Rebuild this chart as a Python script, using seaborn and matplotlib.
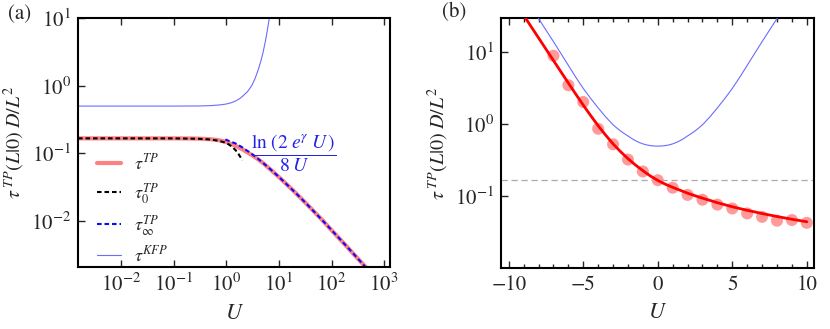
import matplotlib
matplotlib.use("Agg")
import matplotlib.pyplot as plt
from matplotlib.ticker import NullLocator, LogLocator, MultipleLocator
from matplotlib.lines import Line2D
import seaborn as sns

# ---- panel (a): U on log axis ----
u_tp_a = [0.0015, 0.01, 0.05, 0.1, 0.2, 0.3, 0.5, 0.7, 1, 1.5, 2, 3, 4, 5, 7,
          10, 15, 20, 30, 50, 70, 100, 200, 300, 500]
tau_tp_a = [0.1667, 0.1667, 0.1666, 0.1665, 0.1659, 0.1649, 0.1617, 0.1570, 0.1470,
            0.1290, 0.1150, 0.0950, 0.0818, 0.0716, 0.0570, 0.0445, 0.0331, 0.0267,
            0.0195, 0.0130, 0.0099, 0.0073, 0.0041, 0.0029, 0.0019]

u_tp0 = [0.0015, 0.1, 0.3, 0.5, 0.7, 0.9, 1.1, 1.3, 1.5, 1.7, 1.85, 2.0]
tau_tp0 = [0.1667, 0.1664, 0.1643, 0.1603, 0.1540, 0.1460, 0.1360, 0.1240, 0.1110,
           0.0975, 0.0880, 0.0790]

u_tpinf = [0.95, 1.5, 2, 3, 4, 5, 7, 10, 15, 20, 30, 50, 70, 100, 200, 300, 500]
tau_tpinf = [0.1604, 0.1397, 0.1227, 0.0987, 0.0830, 0.0720, 0.0574, 0.0447, 0.0331,
             0.0267, 0.0195, 0.01295, 0.00985, 0.00734, 0.00411, 0.00291, 0.00187]

u_kfp_a = [0.0015, 0.1, 0.3, 0.5, 0.75, 1, 1.25, 1.5, 1.75, 2, 2.5, 3, 3.5, 4, 4.5,
           5, 5.5, 6, 6.5, 7, 7.5]
tau_kfp_a = [0.5, 0.5, 0.502, 0.508, 0.52, 0.537, 0.562, 0.596, 0.638, 0.692, 0.813,
             0.989, 1.274, 1.698, 2.291, 3.162, 4.519, 6.607, 9.66, 14.13, 20.42]

# ---- panel (b): U on linear axis ----
u_tp_b = [-9, -8.5, -8, -7.5, -7, -6.5, -6, -5.5, -5, -4.5, -4, -3.5, -3, -2.5, -2,
          -1.5, -1, -0.5, 0, 0.5, 1, 1.5, 2, 2.5, 3, 3.5, 4, 4.5, 5, 5.5, 6, 6.5,
          7, 7.5, 8, 8.5, 9, 9.5, 10]
tau_tp_b = [32.81, 22.86, 15.92, 11.09, 7.727, 5.383, 3.758, 2.630, 1.854, 1.324,
            0.959, 0.711, 0.537, 0.419, 0.3345, 0.2735, 0.228, 0.1925, 0.1667, 0.148,
            0.1338, 0.1218, 0.111, 0.1023, 0.0946, 0.0881, 0.0818, 0.0767, 0.0719,
            0.0679, 0.0641, 0.0610, 0.0578, 0.0552, 0.0526, 0.0504, 0.0482, 0.0463,
            0.0445]

u_sim = [-7, -6, -5, -4, -3, -2, -1, 0, 1, 2, 3, 4, 5, 6, 7, 8, 9, 10]
tau_sim = [9.0, 3.5, 2.05, 0.87, 0.53, 0.325, 0.222, 0.168, 0.132, 0.105, 0.090,
           0.077, 0.068, 0.058, 0.052, 0.046, 0.047, 0.043]

u_kfp_b = [-8.5, -8, -7.5, -7, -6.5, -6, -5.5, -5, -4.5, -4, -3.5, -3, -2.75, -2.5,
           -2.25, -2, -1.75, -1.5, -1.25, -1, -0.75, -0.5, -0.25, 0, 0.25, 0.5, 0.75,
           1, 1.25, 1.5, 1.75, 2, 2.25, 2.5, 2.75, 3, 3.5, 4, 4.5, 5, 5.5, 6, 6.5,
           7, 7.5, 8, 8.5]
tau_kfp_b = [42.66, 29.51, 20.42, 14.13, 9.66, 6.607, 4.519, 3.162, 2.291, 1.698,
             1.274, 0.989, 0.893, 0.813, 0.746, 0.692, 0.638, 0.596, 0.562, 0.537,
             0.520, 0.508, 0.5017, 0.5, 0.5017, 0.508, 0.520, 0.537, 0.562, 0.596,
             0.638, 0.692, 0.746, 0.813, 0.893, 0.989, 1.274, 1.698, 2.291, 3.162,
             4.519, 6.607, 9.66, 14.13, 20.42, 29.51, 42.66]

tau_zero = 1 / 6

SALMON = "#ff8080"
KFP_BLUE = "#6b6bff"
DASH_BLUE = "#0a0aff"

sns.set_style("ticks")
plt.rcParams["font.family"] = ["STIXGeneral", "DejaVu Serif"]
plt.rcParams["mathtext.fontset"] = "stix"
plt.rcParams["axes.linewidth"] = 1.5

fig = plt.figure(figsize=(8.3, 3.29), dpi=100)
ax_a = fig.add_axes([0.094, 0.189, 0.376, 0.756])
ax_b = fig.add_axes([0.604, 0.186, 0.377, 0.759])

# (a)
sns.lineplot(x=u_tp_a, y=tau_tp_a, ax=ax_a, color=SALMON, lw=3, sort=False)
sns.lineplot(x=u_kfp_a, y=tau_kfp_a, ax=ax_a, color=KFP_BLUE, lw=0.8, sort=False)
sns.lineplot(x=u_tp0, y=tau_tp0, ax=ax_a, color="black", lw=1.5,
             linestyle=(0, (2.2, 1.4)), sort=False)
sns.lineplot(x=u_tpinf, y=tau_tpinf, ax=ax_a, color=DASH_BLUE, lw=1.5,
             linestyle=(0, (2.2, 1.4)), sort=False)
ax_a.set_xscale("log")
ax_a.set_yscale("log")
ax_a.set_xlim(1.5e-3, 1300)
ax_a.set_ylim(2.1e-3, 10)
ax_a.xaxis.set_major_locator(LogLocator(base=10, numticks=10))
ax_a.yaxis.set_major_locator(LogLocator(base=10, numticks=10))
ax_a.xaxis.set_minor_locator(NullLocator())
ax_a.yaxis.set_minor_locator(NullLocator())

ax_a.text(0.692, 0.455, r"$\dfrac{\ln\,(2\;e^{\gamma}\;U\,)}{8\;U}$",
          transform=ax_a.transAxes, ha="center", va="center",
          color="#2323e6", fontsize=14)

handles = [
    Line2D([], [], color=SALMON, lw=3),
    Line2D([], [], color="black", lw=1.5, linestyle=(0, (2.2, 1.4))),
    Line2D([], [], color=DASH_BLUE, lw=1.5, linestyle=(0, (2.2, 1.4))),
    Line2D([], [], color=KFP_BLUE, lw=0.8),
]
labels = [r"$\tau^{TP}$", r"$\tau_0^{TP}$", r"$\tau_\infty^{TP}$", r"$\tau^{KFP}$"]
ax_a.legend(handles, labels, loc="lower left", bbox_to_anchor=(0.01, -0.06),
            frameon=False, fontsize=13, handlelength=1.3, handletextpad=0.7,
            labelspacing=0.42)

# (b)
sns.scatterplot(x=u_sim, y=tau_sim, ax=ax_b, color="#ff9a9a", s=75,
                edgecolor="none", zorder=2)
sns.lineplot(x=u_tp_b, y=tau_tp_b, ax=ax_b, color="#ff0000", lw=2, zorder=3)
sns.lineplot(x=u_kfp_b, y=tau_kfp_b, ax=ax_b, color=KFP_BLUE, lw=0.8, zorder=3)
ax_b.axhline(tau_zero, color="#aaaaaa", lw=0.9, linestyle=(0, (5, 3)), zorder=1)
ax_b.set_yscale("log")
ax_b.set_xlim(-10.5, 10.5)
ax_b.set_ylim(0.0102, 30)
ax_b.xaxis.set_major_locator(MultipleLocator(5))
ax_b.xaxis.set_minor_locator(MultipleLocator(1))
ax_b.set_yticks([0.1, 1, 10])
ax_b.yaxis.set_minor_locator(NullLocator())

ylab = r"$\tau^{\,TP}(L|0)\;D/L^2$"
for ax in (ax_a, ax_b):
    ax.set_xlabel(r"$U$", fontsize=16, labelpad=6)
    ax.set_ylabel(ylab, fontsize=14.5, labelpad=3)
    ax.tick_params(which="both", direction="in", top=True, right=False,
                   width=1.0, labelsize=15, pad=5)
    ax.tick_params(which="major", length=5)
    ax.tick_params(which="minor", length=3)
    for sp in ax.spines.values():
        sp.set_linewidth(1.5)
        sp.set_color("black")

fig.text(0.010, 0.957, "(a)", fontsize=15, va="center", ha="left")
fig.text(0.532, 0.963, "(b)", fontsize=15, va="center", ha="left")

fig.savefig("out.png", dpi=100)
